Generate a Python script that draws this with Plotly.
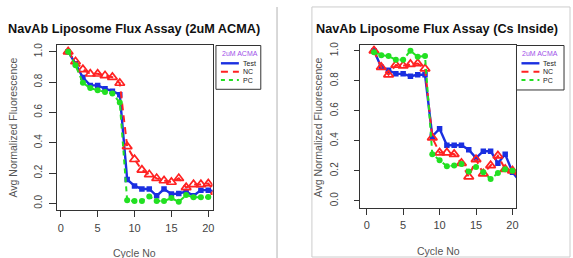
import plotly.graph_objects as go

# ---------------- data ----------------
cycle = list(range(1, 22))
xtick_vals = [0, 5, 10, 15, 20]
ytick_vals = [0.0, 0.2, 0.4, 0.6, 0.8, 1.0]
ytick_text = ["0.0", "0.2", "0.4", "0.6", "0.8", "1.0"]
series_names = ["Test", "NC", "PC"]
legend_title = "2uM ACMA"
titles = ["NavAb Liposome Flux Assay (2uM ACMA)", "NavAb Liposome Flux Assay (Cs Inside)"]
x_title = "Cycle No"
y_title = "Avg Normalized Fluorescence"

test_acma = [1.0, 0.92, 0.83, 0.778, 0.778, 0.756, 0.74, 0.717, 0.158, 0.115, 0.095,
             0.095, 0.05, 0.094, 0.061, 0.065, 0.078, 0.05, 0.087, 0.087, 0.08]
nc_acma = [1.0, 0.935, 0.883, 0.854, 0.854, 0.843, 0.832, 0.793, 0.375, 0.29, 0.22,
           0.19, 0.165, 0.15, 0.14, 0.165, 0.105, 0.125, 0.125, 0.13, 0.075]
pc_acma = [1.0, 0.91, 0.795, 0.76, 0.746, 0.735, 0.724, 0.665, 0.02, 0.015, 0.015,
           0.045, 0.015, 0.015, 0.035, 0.01, 0.055, 0.04, 0.04, 0.042, 0.04]

test_cs = [1.0, 0.89, 0.87, 0.846, 0.846, 0.83, 0.84, 0.84, 0.43, 0.48, 0.37,
           0.37, 0.37, 0.34, 0.285, 0.33, 0.33, 0.25, 0.31, 0.19, 0.13]
nc_cs = [1.0, 0.89, 0.84, 0.905, 0.90, 0.91, 0.915, 0.88, 0.42, 0.32, 0.32,
         0.31, 0.25, 0.16, 0.275, 0.18, 0.235, 0.30, 0.21, 0.20, 0.19]
pc_cs = [0.99, 0.97, 0.965, 0.94, 0.94, 1.0, 0.96, 0.965, 0.31, 0.27, 0.23,
         0.235, 0.245, 0.195, 0.225, 0.19, 0.145, 0.185, 0.21, 0.20, 0.15]

# ---------------- style ----------------
W, H = 573, 258
C_TEST = "#1a2fe0"
C_NC = "#ff2222"
C_PC = "#22e022"
C_LEG_TITLE = "#a050e8"
FONT = "Liberation Sans, Arial, sans-serif"

def px(x):
    return x / W

def py(y):
    return 1 - y / H

panels = [
    dict(box=(57.3, 42.7, 213.3, 209.0), xr=[-0.5, 20.58], yr=[-0.041, 1.043],
         data=(test_acma, nc_acma, pc_acma), title_x=134, ytitle_x=13, xtitle_y=253,
         leg=(216.7, 43, 261.7, 87.3), ylab_standoff=3, ticklen_y=7, xlab_standoff=2),
    dict(box=(361.7, 42.7, 518.3, 207.5), xr=[-0.86, 20.55], yr=[-0.049, 1.037],
         data=(test_cs, nc_cs, pc_cs), title_x=439, ytitle_x=319, xtitle_y=251,
         leg=(518.3, 43, 566, 88), ylab_standoff=12, ticklen_y=5, xlab_standoff=1),
]

fig = go.Figure()
annotations = []
shapes = []

for i, p in enumerate(panels):
    sfx = "" if i == 0 else str(i + 1)
    xa, ya = "x" + sfx, "y" + sfx
    test, nc, pc = p["data"]
    fig.add_trace(go.Scatter(x=cycle, y=test, mode="lines+markers", name=series_names[0],
                             line=dict(color=C_TEST, width=2.4),
                             marker=dict(symbol="square", size=5.5, color=C_TEST),
                             xaxis=xa, yaxis=ya, showlegend=False))
    fig.add_trace(go.Scatter(x=cycle, y=nc, mode="lines+markers", name=series_names[1],
                             line=dict(color=C_NC, width=2, dash="7px,5px"),
                             marker=dict(symbol="triangle-up-open", size=8.5, color=C_NC,
                                         line=dict(width=1.7, color=C_NC)),
                             xaxis=xa, yaxis=ya, showlegend=False))
    fig.add_trace(go.Scatter(x=cycle, y=pc, mode="lines+markers", name=series_names[2],
                             line=dict(color=C_PC, width=2, dash="5px,4px"),
                             marker=dict(symbol="circle", size=6, color=C_PC),
                             xaxis=xa, yaxis=ya, showlegend=False))

    x0, y0, x1, y1 = p["box"]
    axis_common = dict(showgrid=False, zeroline=False, showline=True, mirror=True,
                       linecolor="#333333", linewidth=1, ticks="outside", tickcolor="#333333")
    fig.update_layout(**{
        ("xaxis" + sfx): dict(domain=[px(x0), px(x1)], range=p["xr"], anchor=ya,
                              tickvals=xtick_vals, ticklen=6,
                              ticklabelstandoff=p["xlab_standoff"],
                              tickfont=dict(family=FONT, size=11, color="#444444"),
                              **axis_common),
        ("yaxis" + sfx): dict(domain=[py(y1), py(y0)], range=p["yr"], anchor=xa,
                              tickvals=ytick_vals, ticktext=ytick_text, tickangle=-90,
                              ticklen=p["ticklen_y"], ticklabelstandoff=p["ylab_standoff"],
                              tickfont=dict(family=FONT, size=10, color="#444444"),
                              **axis_common),
    })

    # titles
    annotations.append(dict(text="<b>%s</b>" % titles[i], x=px(p["title_x"]), y=py(26),
                            xref="paper", yref="paper", xanchor="center", yanchor="middle",
                            showarrow=False, font=dict(family=FONT, size=12.7, color="#111111")))
    annotations.append(dict(text=x_title, x=px((x0 + x1) / 2), y=py(p["xtitle_y"]),
                            xref="paper", yref="paper", xanchor="center", yanchor="middle",
                            showarrow=False, font=dict(family=FONT, size=10.5, color="#555555")))
    annotations.append(dict(text=y_title, x=px(p["ytitle_x"]), y=py(126), textangle=-90,
                            xref="paper", yref="paper", xanchor="center", yanchor="middle",
                            showarrow=False, font=dict(family=FONT, size=10.5, color="#555555")))

    # legend box (drawn manually, R style)
    lx0, ly0, lx1, ly1 = p["leg"]
    shapes.append(dict(type="rect", xref="paper", yref="paper", x0=px(lx0), x1=px(lx1),
                       y0=py(ly1), y1=py(ly0), line=dict(color="#333333", width=1),
                       fillcolor="white", layer="above"))
    annotations.append(dict(text=legend_title, x=px(lx0 + 4), y=py(ly0 + 8.5),
                            xref="paper", yref="paper", xanchor="left", yanchor="middle",
                            showarrow=False, font=dict(family=FONT, size=7, color=C_LEG_TITLE)))
    rows = [(series_names[0], C_TEST, "solid", 2.4), (series_names[1], C_NC, "7px,5px", 2),
            (series_names[2], C_PC, "4px,4px", 2)]
    for k, (nm, col, dsh, lw) in enumerate(rows):
        yy = ly0 + 18 + k * 8.5
        shapes.append(dict(type="line", xref="paper", yref="paper", x0=px(lx0 + 5),
                           x1=px(lx0 + 23), y0=py(yy), y1=py(yy),
                           line=dict(color=col, width=lw, dash=dsh), layer="above"))
        annotations.append(dict(text=nm, x=px(lx0 + 25), y=py(yy), xref="paper",
                                yref="paper", xanchor="left", yanchor="middle",
                                showarrow=False, font=dict(family=FONT, size=7, color="#222222")))

# page-like separators between the two images
shapes.append(dict(type="line", xref="paper", yref="paper", x0=px(278), x1=px(278),
                   y0=py(258), y1=py(4), line=dict(color="#cccccc", width=1.5)))
shapes.append(dict(type="rect", xref="paper", yref="paper", x0=px(313), x1=px(572),
                   y0=py(257), y1=py(4), line=dict(color="#cccccc", width=1)))

fig.update_layout(width=W, height=H, margin=dict(l=0, r=0, t=0, b=0, pad=0),
                  paper_bgcolor="white", plot_bgcolor="white", showlegend=False,
                  annotations=annotations, shapes=shapes,
                  font=dict(family=FONT))

fig.write_html("out.html", config={"displayModeBar": False},
               post_script="document.body.style.margin='0';document.body.style.overflow='hidden';")
